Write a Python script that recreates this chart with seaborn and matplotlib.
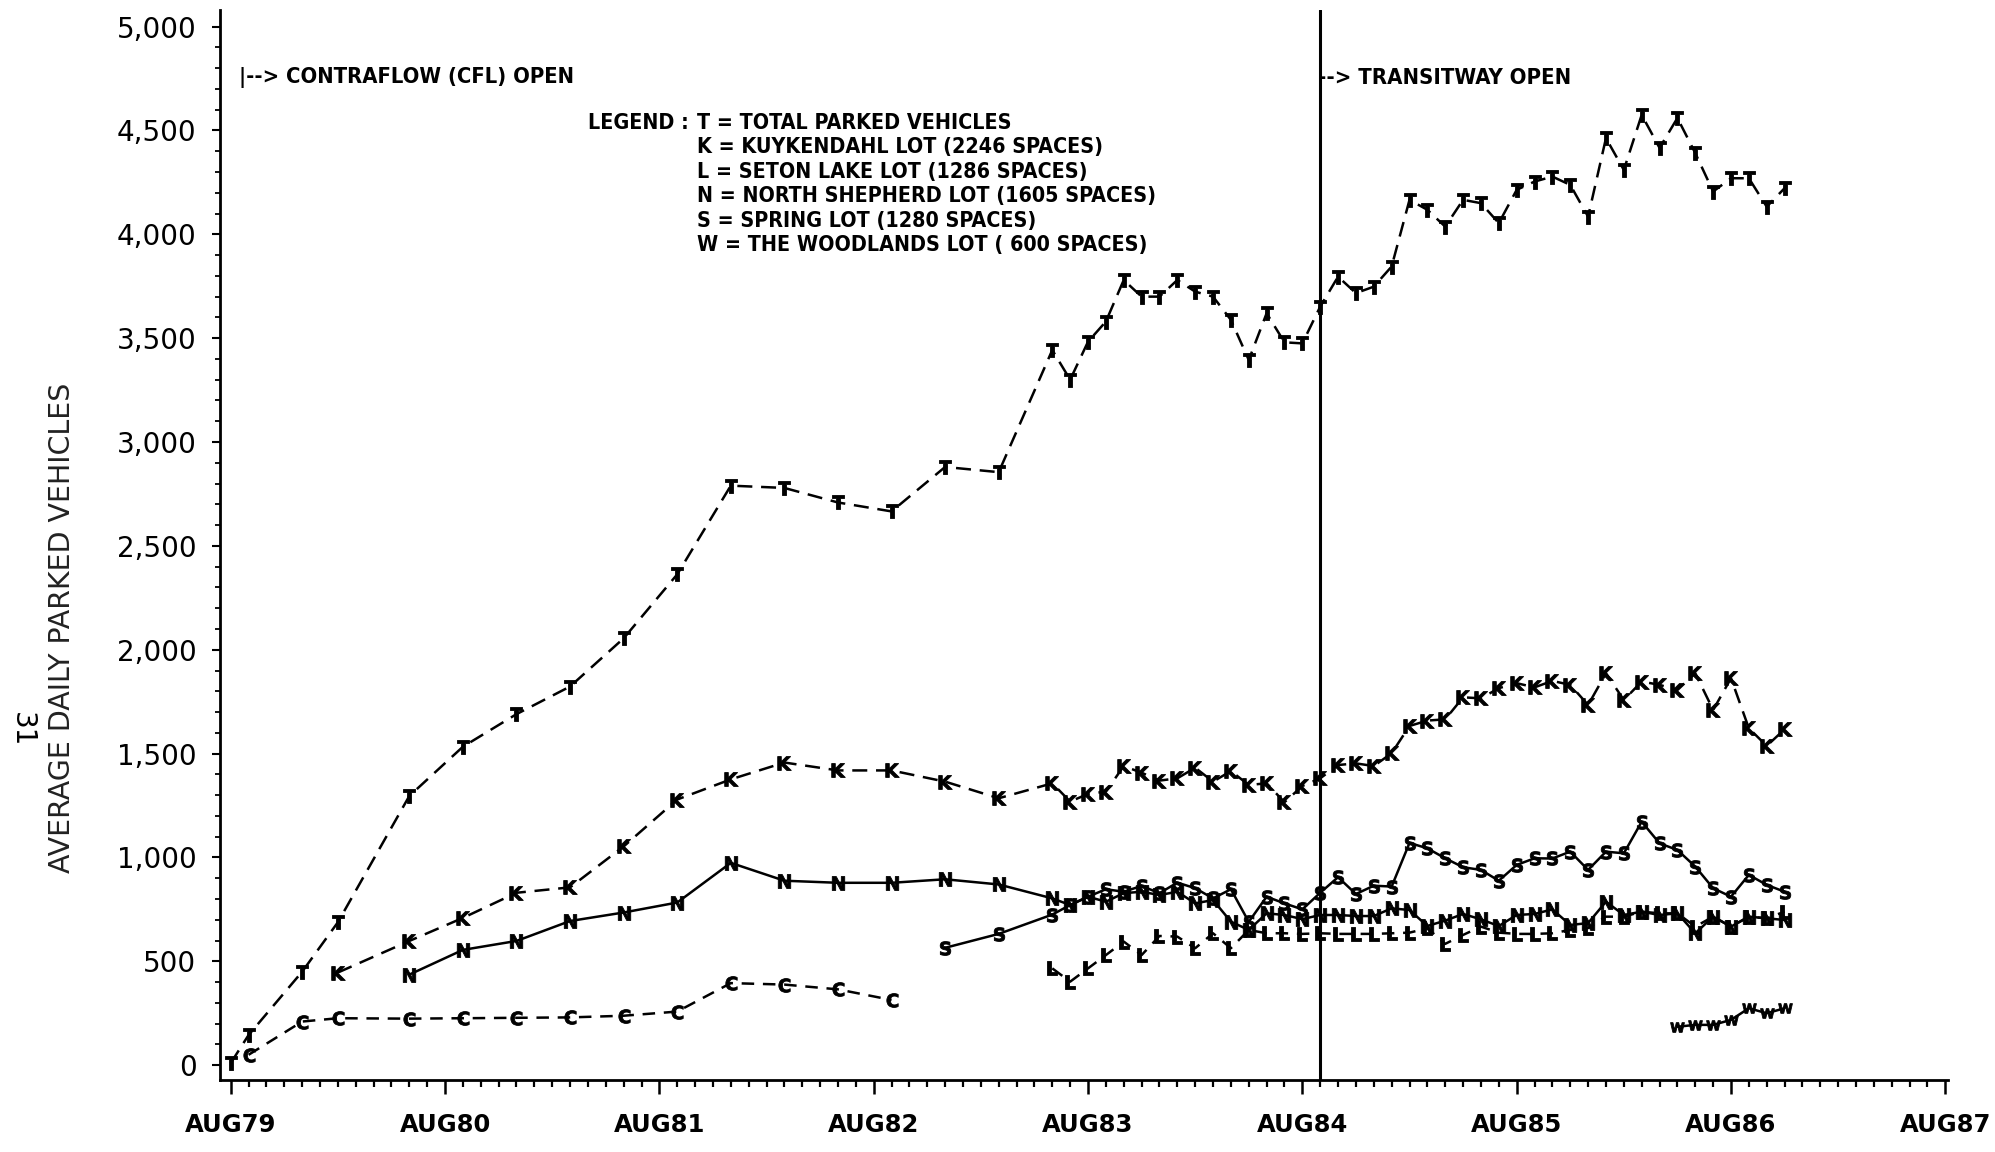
import matplotlib
matplotlib.use("Agg")
import matplotlib.pyplot as plt
from matplotlib import font_manager as fm
from matplotlib.ticker import MultipleLocator, FixedLocator, FuncFormatter
import pandas as pd
import seaborn as sns

# ---------------------------------------------------------------------------
# Average daily parked vehicles at park-and-ride lots.
# Months are counted from August 1979 (0 = AUG79, 12 = AUG80, ...).
# ---------------------------------------------------------------------------
monthly = list(range(46, 88))          # monthly counts from June 1983 on

t_months = [0, 1, 4, 6, 10, 13, 16, 19, 22, 25, 28, 31, 34, 37, 40, 43] + monthly
t_values = [10, 145, 450, 688, 1296, 1533, 1690, 1823, 2055, 2363, 2790, 2779,
            2709, 2666, 2880, 2855,
            3443, 3300, 3483, 3580, 3780, 3700, 3700, 3780, 3724, 3700, 3588, 3395,
            3620, 3480, 3475, 3652, 3796, 3717, 3748, 3845, 4166, 4118, 4037, 4166,
            4150, 4054, 4214, 4254, 4278, 4238, 4085, 4463, 4310, 4575, 4416, 4560,
            4391, 4206, 4270, 4270, 4133, 4222]

k_months = [6, 10, 13, 16, 19, 22, 25, 28, 31, 34, 37, 40, 43] + monthly
k_values = [446, 598, 709, 830, 856, 1053, 1279, 1376, 1457, 1419, 1419, 1365, 1285,
            1357, 1269, 1306, 1317, 1440, 1408, 1370, 1381, 1432, 1365, 1416, 1349,
            1357, 1266, 1344, 1381, 1445, 1453, 1440, 1502, 1633, 1659, 1665, 1771,
            1766, 1815, 1839, 1819, 1850, 1831, 1734, 1887, 1758, 1847, 1831, 1806,
            1887, 1710, 1863, 1622, 1537, 1617]

n_months = [10, 13, 16, 19, 22, 25, 28, 31, 34, 37, 40, 43] + monthly
n_values = [436, 555, 598, 694, 735, 783, 974, 888, 878, 878, 895, 870,
            803, 771, 811, 787, 828, 835, 819, 835, 779, 795, 691, 651, 731, 723,
            703, 723, 723, 718, 718, 755, 747, 670, 696, 728, 702, 670, 723, 728,
            750, 675, 684, 787, 723, 739, 723, 731, 635, 715, 667, 715, 707, 699]

s_months = [40, 43] + monthly
s_values = [565, 632,
            725, 771, 811, 847, 835, 863, 828, 879, 852, 803, 847, 690, 811, 779,
            750, 830, 905, 824, 864, 860, 1070, 1044, 996, 953, 940, 888, 964, 996,
            995, 1028, 940, 1028, 1020, 1172, 1068, 1036, 956, 852, 811, 916, 868, 835]

l_months = monthly
l_values = [466, 402, 466, 530, 595, 530, 622, 619, 563, 635, 563, 651, 635, 635,
            632, 635, 632, 632, 632, 635, 638, 659, 584, 627, 667, 638, 632, 632,
            635, 651, 660, 715, 715, 739, 731, 731, 667, 715, 667, 715, 707, 739]

c_months = [1, 4, 6, 10, 13, 16, 19, 22, 25, 28, 31, 34, 37]
c_values = [50, 210, 226, 224, 226, 228, 230, 238, 258, 395, 388, 365, 314]

w_months = [81, 82, 83, 84, 85, 86, 87]
w_values = [185, 194, 194, 218, 274, 250, 274]

x_tick_months = [0, 12, 24, 36, 48, 60, 72, 84, 96]
x_tick_labels = ["AUG79", "AUG80", "AUG81", "AUG82", "AUG83",
                 "AUG84", "AUG85", "AUG86", "AUG87"]
transitway_month = 61

legend_lines = ["T = TOTAL PARKED VEHICLES",
                "K = KUYKENDAHL LOT (2246 SPACES)",
                "L = SETON LAKE LOT (1286 SPACES)",
                "N = NORTH SHEPHERD LOT (1605 SPACES)",
                "S = SPRING LOT (1280 SPACES)",
                "W = THE WOODLANDS LOT ( 600 SPACES)"]

# ---------------------------------------------------------------------------
series = [("T", t_months, t_values), ("K", k_months, k_values),
          ("N", n_months, n_values), ("S", s_months, s_values),
          ("L", l_months, l_values), ("C", c_months, c_values),
          ("W", w_months, w_values)]
df = pd.concat([pd.DataFrame({"month": m, "vehicles": v, "lot": code})
                for code, m, v in series], ignore_index=True)
codes = [s[0] for s in series]

sns.set_style("ticks")
plt.rcParams["font.family"] = ["DejaVu Sans"]
plt.rcParams["mathtext.fontset"] = "dejavusans"
for key in ("text.color", "axes.edgecolor", "axes.labelcolor",
            "xtick.color", "ytick.color"):
    plt.rcParams[key] = "black"

W, H = 1995, 1152
fig = plt.figure(figsize=(W / 100, H / 100), dpi=100)
ax = fig.add_axes([220 / W, 1 - 1079.5 / H, (1948 - 220) / W, (1079.5 - 10) / H])

markers = {c: r"$\mathbf{%s}$" % c for c in codes}
dashes = {"T": (6, 3.5), "K": (6, 3.5), "N": "", "S": "", "L": (5, 3.5),
          "C": (5, 3.5), "W": ""}
sns.lineplot(data=df, x="month", y="vehicles", hue="lot", style="lot",
             palette={c: "black" for c in codes}, markers=markers, dashes=dashes,
             estimator=None, sort=True, legend=False, linewidth=1.8,
             markersize=10, mec="black", mew=0.6, ax=ax)

ax.axvline(transitway_month, color="black", lw=2.2, zorder=1)

ax.set_xlim(-0.6, 96.15)
ax.set_ylim(-69, 5080)
ax.xaxis.set_major_locator(FixedLocator(x_tick_months))
ax.set_xticklabels(x_tick_labels)
ax.xaxis.set_minor_locator(MultipleLocator(1))
ax.yaxis.set_major_locator(MultipleLocator(500))
ax.yaxis.set_minor_locator(MultipleLocator(100))
ax.yaxis.set_major_formatter(FuncFormatter(lambda v, p: f"{int(v):,}"))
ax.set_xlabel("")
ax.set_ylabel("")

sns.despine(ax=ax)
for side in ("left", "bottom"):
    ax.spines[side].set_linewidth(2.0)
ax.tick_params(axis="x", which="major", length=10, width=1.8, pad=14,
               labelsize=17.5, direction="out")
ax.tick_params(axis="x", which="minor", length=5, width=1.6, direction="out")
ax.tick_params(axis="y", which="major", length=6, width=1.5, pad=11,
               labelsize=20, direction="out")
ax.tick_params(axis="y", which="minor", length=3.5, width=1.3, direction="out")
for lbl in ax.get_xticklabels():
    lbl.set_fontweight("bold")


# --- condensed bold face for the annotations --------------------------------
def condensed_bold():
    for f in fm.fontManager.ttflist:
        if f.name == "Liberation Sans Narrow" and str(f.weight) in ("bold", "700"):
            return fm.FontProperties(fname=f.fname)
    for f in fm.fontManager.ttflist:
        if (f.name == "DejaVu Sans" and "condensed" in str(f.stretch)
                and str(f.weight) in ("bold", "700")):
            return fm.FontProperties(fname=f.fname)
    for f in fm.fontManager.ttflist:
        if f.name == "Roboto Condensed" and str(f.weight) in ("bold", "700"):
            return fm.FontProperties(fname=f.fname)
    return fm.FontProperties(family="DejaVu Sans", weight="bold")


fig.canvas.draw()
renderer = fig.canvas.get_renderer()


def fit(text, target, along="width"):
    bb = text.get_window_extent(renderer)
    cur = bb.width if along == "width" else bb.height
    text.set_fontsize(text.get_fontsize() * target / cur)
    return text.get_fontsize()


def px_text(x, y, s, **kw):
    return fig.text(x / W, 1 - y / H, s, **kw)


cb = condensed_bold()

t1 = px_text(239, 77, "|--> CONTRAFLOW (CFL) OPEN", ha="left", va="center",
             fontproperties=cb.copy())
fit(t1, 335)
t2 = px_text(1318, 78, "--> TRANSITWAY OPEN", ha="left", va="center",
             fontproperties=cb.copy())
fit(t2, 252)

# legend block
probe = px_text(697, 196, legend_lines[3], ha="left", va="center",
                fontproperties=cb.copy())
leg_size = fit(probe, 460)
probe.remove()
px_text(689, 123, "LEGEND :", ha="right", va="center",
        fontproperties=cb.copy(), fontsize=leg_size)
for i, line in enumerate(legend_lines):
    px_text(697, 123 + 24.4 * i, line, ha="left", va="center",
            fontproperties=cb.copy(), fontsize=leg_size)

ylab = px_text(62, 628, "AVERAGE DAILY PARKED VEHICLES", rotation=90,
               ha="center", va="center", fontsize=18, color="#222222")
fit(ylab, 493, along="height")

px_text(22, 730, "31", rotation=270, ha="center", va="center", fontsize=20)

fig.savefig("out.png", dpi=100)
